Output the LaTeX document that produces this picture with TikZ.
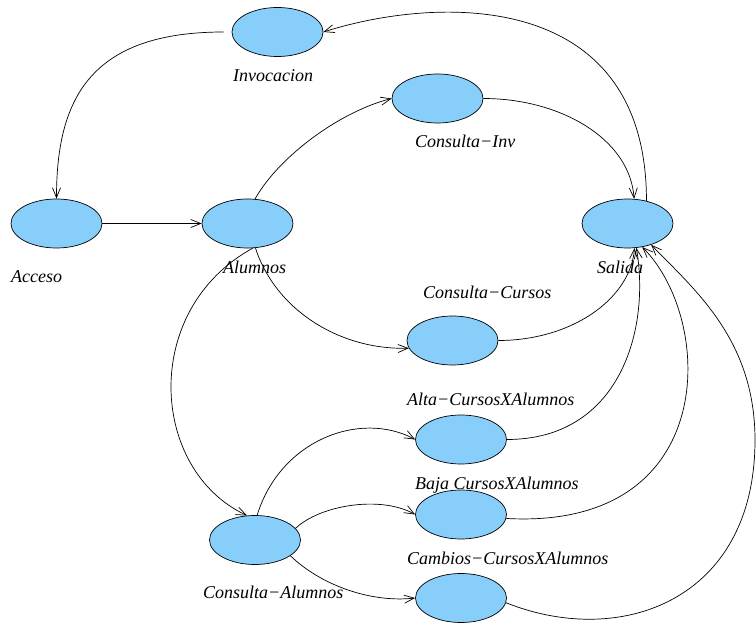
\documentclass[tikz,border=0pt]{standalone}
\usepackage{fontspec}
\setmainfont{Liberation Serif}
\usetikzlibrary{shapes.geometric,arrows.meta}
\definecolor{stateblue}{HTML}{87CEFA}
\tikzset{
  state/.style={ellipse,draw=black,line width=0.7pt,fill=stateblue,minimum width=91pt,minimum height=49pt,inner sep=0pt},
  lbl/.style={anchor=base west,inner sep=0pt,font=\fontsize{18}{20}\selectfont\itshape},
  conn/.style={line width=0.7pt,-{Straight Barb[length=10pt,width=8pt]}}
}
\begin{document}
\begin{tikzpicture}[x=1pt,y=-1pt]
\useasboundingbox (0,0) rectangle (756,628);
% states
\node[state] (inv)  at (277.5,32) {};
\node[state] (acc)  at (56.5,223.5) {};
\node[state] (alu)  at (247.5,223.5) {};
\node[state] (cinv) at (437.5,98.5) {};
\node[state] (sal)  at (627.5,223.5) {};
\node[state] (ccur) at (452.5,340.5) {};
\node[state] (alta) at (461,439.5) {};
\node[state] (baja) at (461,514.5) {};
\node[state] (camb) at (461,598) {};
\node[state] (calu) at (255,540) {};
% connectors
\draw[conn] (sal.50) .. controls +(0,-211) and +(117,-37) .. (inv.east);
\draw[conn,shorten <=8pt] (inv.west) .. controls +(-142,0) and +(0,-99) .. (acc.north);
\draw[conn] (acc) -- (alu);
\draw[conn] (alu.73) .. controls +(25,-44) and +(-50,12.5) .. (cinv.west);
\draw[conn] (cinv.east) .. controls +(77,0) and +(-4,-60) .. (sal.75);
\draw[conn] (alu.-72) .. controls +(20,62) and +(-69,2) .. (ccur.190);
\draw[conn] (ccur.east) .. controls +(72,0) and +(-4.5,52) .. (sal.-74);
\draw[conn] (alu.-78) .. controls +(-113,62) and +(-97,-45) .. (calu.108);
\draw[conn] (calu.85) .. controls +(23,-75) and +(-55,-29.5) .. (alta.west);
\draw[conn] (calu.16) .. controls +(24,-23) and +(-35,-19.5) .. (baja.west);
\draw[conn] (calu.-24) .. controls +(30,29) and +(-45,5) .. (camb.west);
\draw[conn] (alta.east) .. controls +(113,0) and +(14,82) .. (sal.-70);
\draw[conn] (baja.-5) .. controls +(214,12) and +(73,73) .. (sal.-58);
\draw[conn] (camb.-6) .. controls +(115,46) and +(0,160) .. (755,440)
  .. controls +(0,-100) and +(44,45.5) .. (sal.-42);
% labels
\node[lbl] (linv)  at (233,82)  {Invocacion};
\node[lbl] (lacc)  at (11,283)  {Acceso};
\node[lbl] (lalu)  at (223,274) {Alumnos};
\node[lbl] (lcinv) at (415,148) {Consulta−Inv};
\node[lbl] (lsal)  at (597,274) {Salida};
\node[lbl] (lccur) at (423,299) {Consulta−Cursos};
\node[lbl] (lalta) at (407,406) {Alta−CursosXAlumnos};
\node[lbl] (lbaja) at (415,490) {Baja CursosXAlumnos};
\node[lbl] (lcamb) at (407,565) {Cambios−CursosXAlumnos};
\node[lbl] (lcalu) at (203,598) {Consulta−Alumnos};
\end{tikzpicture}
\end{document}
